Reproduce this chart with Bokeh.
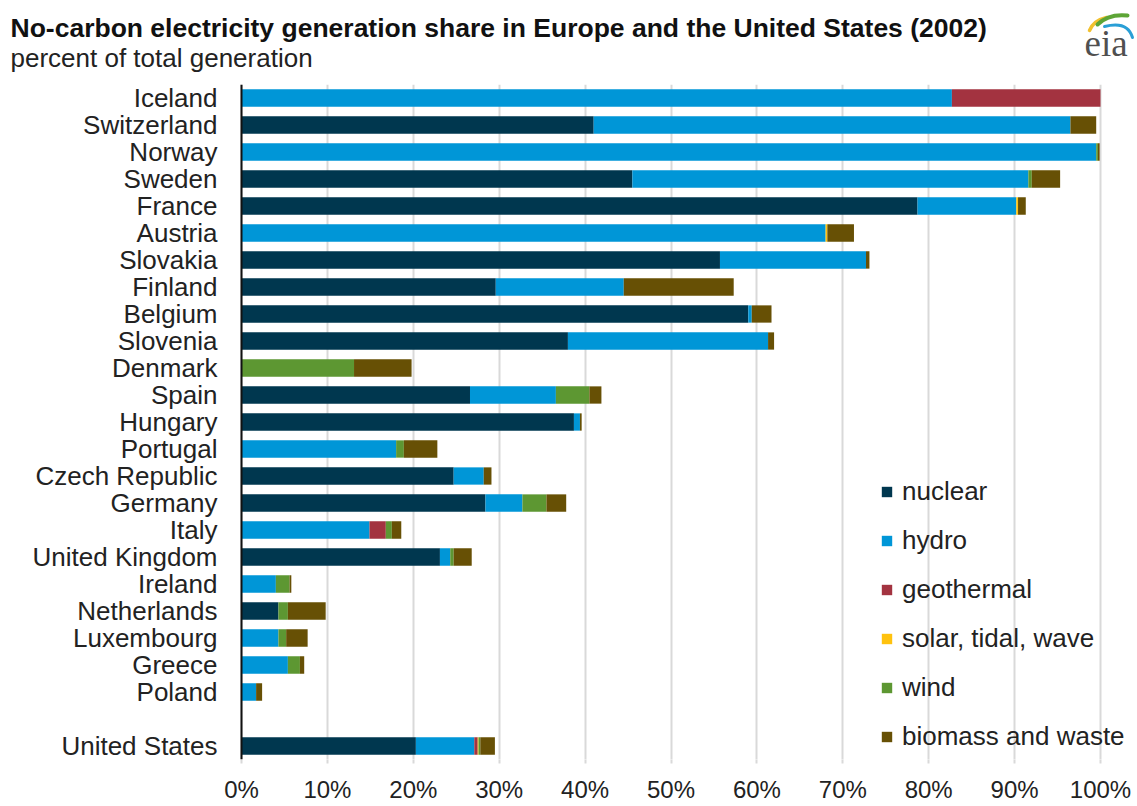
from bokeh.plotting import figure
from bokeh.layouts import column
from bokeh.models import FactorRange, Range1d, FixedTicker, ColumnDataSource, Span
from bokeh.core.properties import value
from bokeh.embed import file_html
from bokeh.resources import INLINE

countries = ["Iceland", "Switzerland", "Norway", "Sweden", "France", "Austria", "Slovakia",
             "Finland", "Belgium", "Slovenia", "Denmark", "Spain", "Hungary", "Portugal",
             "Czech Republic", "Germany", "Italy", "United Kingdom", "Ireland", "Netherlands",
             "Luxembourg", "Greece", "Poland", "United States"]
nuclear = [0, 41.0, 0, 45.5, 78.7, 0, 55.7, 29.6, 59.0, 38.0, 0, 26.6, 38.7, 0, 24.7, 28.4,
           0, 23.1, 0, 4.3, 0, 0, 0, 20.3]
hydro = [82.7, 55.5, 99.5, 46.1, 11.5, 68.0, 17.0, 14.9, 0.4, 23.3, 0, 10.0, 0.7, 18.0, 3.5,
         4.3, 14.9, 1.2, 4.0, 0, 4.3, 5.4, 1.7, 6.8]
geothermal = [17.3, 0, 0, 0, 0, 0, 0, 0, 0, 0, 0, 0, 0, 0, 0, 0, 1.9, 0, 0, 0, 0, 0, 0, 0.4]
solar = [0, 0, 0, 0, 0.2, 0.2, 0, 0, 0, 0, 0, 0, 0, 0, 0, 0, 0, 0, 0, 0, 0, 0, 0, 0.1]
wind = [0, 0, 0.2, 0.4, 0, 0, 0, 0, 0, 0, 13.1, 3.9, 0, 0.9, 0, 2.8, 0.7, 0.4, 1.6, 1.1, 0.9,
        1.4, 0, 0.2]
biomass = [0, 3.0, 0.2, 3.3, 0.9, 3.1, 0.4, 12.8, 2.3, 0.7, 6.7, 1.4, 0.2, 3.9, 0.9, 2.3,
           1.1, 2.1, 0.2, 4.4, 2.5, 0.5, 0.7, 1.7]

series_keys = ["nuclear", "hydro", "geothermal", "solar", "wind", "biomass"]
series_labels = ["nuclear", "hydro", "geothermal", "solar, tidal, wave", "wind", "biomass and waste"]
colors = ["#00374f", "#0096d7", "#a33340", "#ffc20e", "#5d9732", "#675005"]

tick_values = [0, 10, 20, 30, 40, 50, 60, 70, 80, 90, 100]
tick_labels = ["0%", "10%", "20%", "30%", "40%", "50%", "60%", "70%", "80%", "90%", "100%"]

title_text = "No-carbon electricity generation share in Europe and the United States (2002)"
subtitle_text = "percent of total generation"
logo_text = "eia"

FONT = "Liberation Sans"
W = 1135
RIGHT = 1
FRAME_W = W - RIGHT           # frame spans the full width (left border 0)
PLOT_LEFT = 241               # pixel where 0% sits
PX_PER_PCT = 8.59             # pixels per percentage point

# ---------------- header (title, subtitle, logo) ----------------
HEAD_H = 80
head = figure(width=W, height=HEAD_H, x_range=Range1d(0, FRAME_W), y_range=Range1d(HEAD_H, 0),
              output_backend="svg", toolbar_location=None, x_axis_type=None, y_axis_type=None,
              min_border_left=0, min_border_right=RIGHT, min_border_top=0, min_border_bottom=0)
head.outline_line_color = None
head.grid.grid_line_color = None

head.text(x=[10], y=[27], text=[title_text], text_font=value(FONT), text_font_size="26.5px",
          text_font_style="bold", text_color="#111111", text_baseline="alphabetic")
head.text(x=[10], y=[57], text=[subtitle_text], text_font=value(FONT), text_font_size="26px",
          text_color="#222222", text_baseline="alphabetic")
head.text(x=[1084], y=[43], text=[logo_text], text_font=value("Liberation Serif"),
          text_font_size="37px", text_color="#505050", text_baseline="alphabetic")
# logo swooshes
head.quadratic(x0=[1089], y0=[30], x1=[1106], y1=[17], cx=[1093], cy=[20],
               line_color="#f2c12e", line_width=3.5, line_cap="round")
head.quadratic(x0=[1097], y0=[24], x1=[1127], y1=[15], cx=[1108], cy=[13],
               line_color="#5da536", line_width=4, line_cap="round")
head.quadratic(x0=[1104], y0=[26], x1=[1132], y1=[37], cx=[1127], cy=[20],
               line_color="#2a9fd6", line_width=3, line_cap="round")

# ---------------- main chart ----------------
gap = " "
order = countries[:-1] + [gap] + countries[-1:]
factors = list(reversed(order))

source = ColumnDataSource(dict(country=countries, nuclear=nuclear, hydro=hydro,
                               geothermal=geothermal, solar=solar, wind=wind, biomass=biomass))

x_start = -PLOT_LEFT / PX_PER_PCT
x_end = (FRAME_W - PLOT_LEFT) / PX_PER_PCT

TOP, FRAME_H, BOTTOM = 4, 675, 46
p = figure(width=W, height=TOP + FRAME_H + BOTTOM, y_range=FactorRange(*factors, range_padding=0),
           x_range=Range1d(x_start, x_end), output_backend="svg", toolbar_location=None,
           min_border_left=0, min_border_right=RIGHT, min_border_top=TOP, min_border_bottom=BOTTOM)

p.hbar_stack(series_keys, y="country", height=0.64, color=colors, source=source,
             legend_label=series_labels, line_width=0)

# category labels (left of the 0% line) and the vertical axis line
label_x = -24 / PX_PER_PCT
p.text(x=[label_x] * len(countries), y=countries, text=countries, text_align="right",
       text_baseline="middle", text_font=value(FONT), text_font_size="26px", text_color="#222222")
p.add_layout(Span(location=0, dimension="height", line_color="#111111", line_width=2))

p.yaxis.visible = False
p.outline_line_color = None
p.ygrid.grid_line_color = None
p.xgrid.grid_line_color = "#d9d9d9"
p.xgrid.grid_line_width = 2

p.xaxis.ticker = FixedTicker(ticks=tick_values)
p.xaxis.major_label_overrides = {v: l for v, l in zip(tick_values, tick_labels)}
p.xaxis.axis_line_color = None
p.xaxis.major_tick_line_color = "#d9d9d9"
p.xaxis.major_tick_line_width = 2
p.xaxis.major_tick_out = 4
p.xaxis.major_tick_in = 0
p.xaxis.minor_tick_line_color = None
p.xaxis.major_label_standoff = 12
p.xaxis.major_label_text_font = FONT
p.xaxis.major_label_text_font_size = "24px"
p.xaxis.major_label_text_color = "#222222"

leg = p.legend[0]
leg.location = (880, 7)
leg.background_fill_alpha = 0
leg.border_line_color = None
leg.padding = 0
leg.margin = 0
leg.glyph_width = 13
leg.glyph_height = 13
leg.label_height = 20
leg.spacing = 18
leg.label_standoff = 9
leg.label_text_font = FONT
leg.label_text_font_size = "26px"
leg.label_text_color = "#222222"

layout = column(head, p, spacing=0)
open("out.html", "w").write(file_html(layout, INLINE))
